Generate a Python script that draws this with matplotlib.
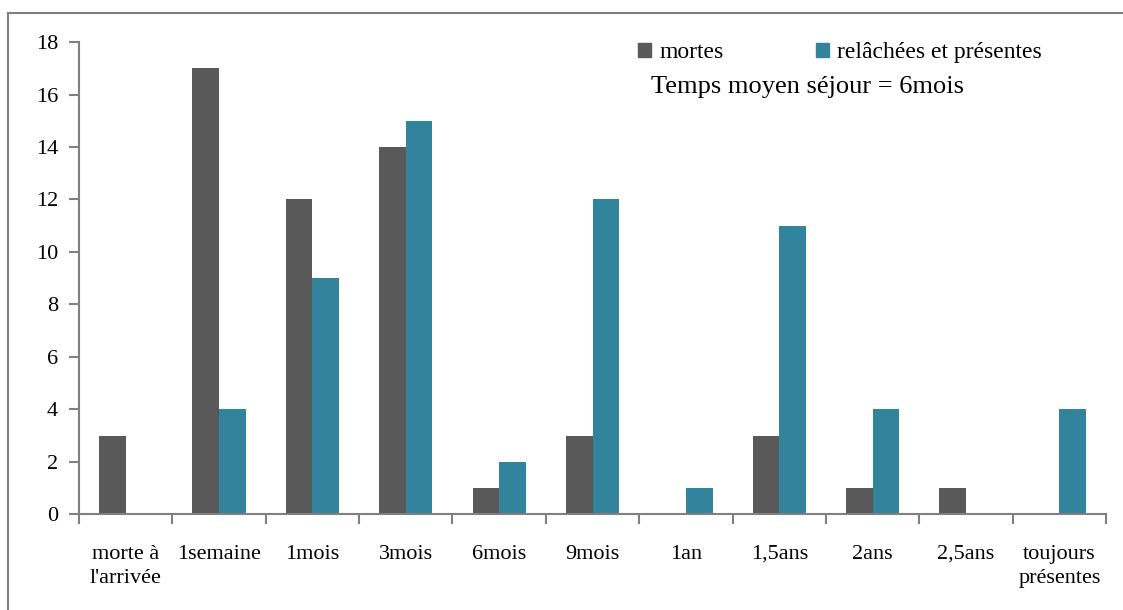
import numpy as np
import matplotlib.pyplot as plt
from matplotlib.patches import Patch
from matplotlib.lines import Line2D

# data
categories = ["morte à\nl'arrivée", "1semaine", "1mois", "3mois", "6mois", "9mois",
              "1an", "1,5ans", "2ans", "2,5ans", "toujours\nprésentes"]
mortes = [3, 17, 12, 14, 1, 3, 0, 3, 1, 1, 0]
relachees = [0, 4, 9, 15, 2, 12, 1, 11, 4, 0, 4]

grey = "#595959"
teal = "#31849B"
plt.rcParams['font.family'] = ['Liberation Serif', 'DejaVu Serif']

fig = plt.figure(figsize=(11.23, 6.10), dpi=100)
ax = fig.add_axes([0.0703, 0.157, 0.9147, 0.774])

x = np.arange(len(categories))
w = 0.285
ax.bar(x - w/2, mortes, w, color=grey, label="mortes")
ax.bar(x + w/2, relachees, w, color=teal, label="relâchées et présentes")

ax.set_xlim(-0.5, len(categories) - 0.5)
ax.set_ylim(0, 18)
ax.set_yticks(range(0, 19, 2))
ax.set_xticks(x)
ax.set_xticklabels(categories, fontsize=16, linespacing=1.35)
ax.tick_params(axis='x', length=0, pad=22)
ax.set_xticks(np.arange(-0.5, len(categories), 1), minor=True)
ax.tick_params(axis='x', which='minor', length=7, width=1.5, color="#808080", direction='out')
ax.tick_params(axis='y', length=7, width=1.5, color="#808080", direction='out', labelsize=16, pad=8)

for s in ["top", "right"]:
    ax.spines[s].set_visible(False)
for s in ["left", "bottom"]:
    ax.spines[s].set_color("#808080")
    ax.spines[s].set_linewidth(1.5)

handles = [Patch(color=grey), Patch(color=teal)]
ax.legend(handles, ["mortes", "relâchées et présentes"], ncol=2, frameon=False,
          fontsize=17, handlelength=0.55, handleheight=0.55, handletextpad=0.35,
          columnspacing=3.9, loc="upper left", bbox_to_anchor=(0.524, 1.045))
fig.text(0.58, 0.857, "Temps moyen séjour = 6mois", fontsize=19, va="center")

# frame round the chart
fig.add_artist(Line2D([0.0071, 0.0071], [0, 0.979], color="#808080", lw=1.5))
fig.add_artist(Line2D([0.0071, 1], [0.979, 0.979], color="#808080", lw=1.5))

fig.savefig("out.png", dpi=100)
